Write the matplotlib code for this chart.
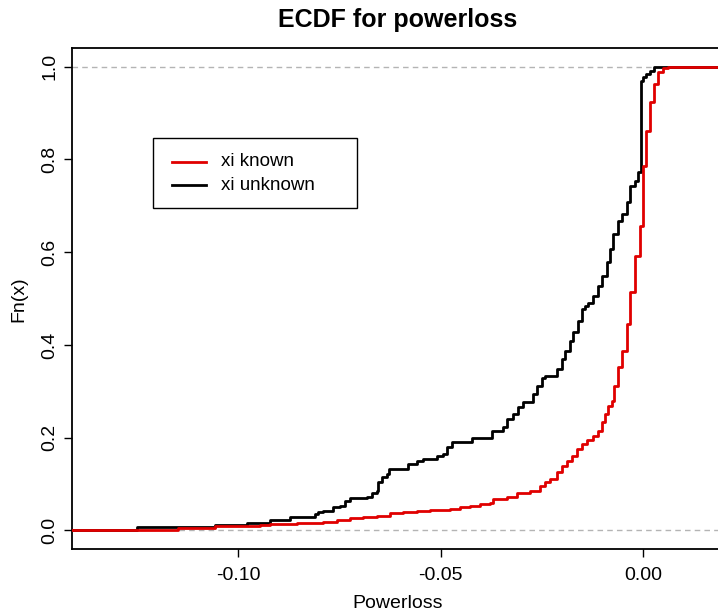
"""ECDF of powerloss with xi known vs xi unknown."""

import matplotlib
matplotlib.use("Agg")
import matplotlib.pyplot as plt
from matplotlib.patches import Rectangle

plt.rcParams["font.family"] = ["Liberation Sans", "DejaVu Sans"]

# jump locations and ECDF level after each jump
unknown_x = [-0.1249, -0.1057, -0.0978, -0.0921, -0.0872, -0.0810, -0.0802,
             -0.0790, -0.0765, -0.0748, -0.0736, -0.0723, -0.0681, -0.0669,
             -0.0657, -0.0654, -0.0644, -0.0632, -0.0627, -0.0580, -0.0558,
             -0.0543, -0.0509, -0.0494, -0.0484, -0.0472, -0.0422, -0.0373,
             -0.0346, -0.0336, -0.0321, -0.0309, -0.0296, -0.0272, -0.0262,
             -0.0249, -0.0242, -0.0212, -0.0200, -0.0193, -0.0180, -0.0173,
             -0.0160, -0.0151, -0.0143, -0.0136, -0.0123, -0.0111, -0.0101,
             -0.0089, -0.0081, -0.0074, -0.0062, -0.0052, -0.0040, -0.0032,
             -0.0020, -0.0012, -0.0005, 0.0000, 0.0007, 0.0017, 0.0027, 0.0035]
unknown_y = [0.007, 0.011, 0.017, 0.022, 0.028, 0.035, 0.039,
             0.042, 0.050, 0.052, 0.063, 0.071, 0.073, 0.080,
             0.084, 0.104, 0.115, 0.121, 0.132, 0.143, 0.149,
             0.155, 0.160, 0.164, 0.180, 0.190, 0.200, 0.214,
             0.222, 0.240, 0.250, 0.266, 0.277, 0.294, 0.311,
             0.328, 0.333, 0.348, 0.369, 0.387, 0.408, 0.427,
             0.451, 0.477, 0.484, 0.490, 0.505, 0.527, 0.549,
             0.579, 0.607, 0.639, 0.667, 0.682, 0.708, 0.743,
             0.754, 0.773, 0.968, 0.978, 0.985, 0.991, 0.998, 1.000]

known_x = [-0.1274, -0.1148, -0.1057, -0.0946, -0.0921, -0.0854, -0.0822,
           -0.0790, -0.0756, -0.0723, -0.0691, -0.0657, -0.0625, -0.0593,
           -0.0558, -0.0526, -0.0477, -0.0452, -0.0427, -0.0402, -0.0378,
           -0.0370, -0.0336, -0.0311, -0.0279, -0.0254, -0.0242, -0.0230,
           -0.0212, -0.0200, -0.0188, -0.0175, -0.0163, -0.0151, -0.0138,
           -0.0123, -0.0111, -0.0101, -0.0094, -0.0086, -0.0077, -0.0072,
           -0.0062, -0.0052, -0.0040, -0.0032, -0.0020, -0.0007, 0.0000,
           0.0007, 0.0017, 0.0027, 0.0037, 0.0049, 0.0062]
known_y = [0.002, 0.005, 0.009, 0.011, 0.013, 0.015, 0.017,
           0.019, 0.022, 0.026, 0.028, 0.032, 0.037, 0.039,
           0.041, 0.043, 0.047, 0.050, 0.052, 0.056, 0.060,
           0.067, 0.073, 0.080, 0.086, 0.095, 0.104, 0.110,
           0.125, 0.138, 0.149, 0.160, 0.175, 0.186, 0.194,
           0.203, 0.214, 0.233, 0.250, 0.268, 0.279, 0.311,
           0.352, 0.387, 0.445, 0.514, 0.592, 0.657, 0.786,
           0.862, 0.924, 0.963, 0.989, 0.996, 1.000]

labels = ["xi known", "xi unknown"]
xticks = [-0.10, -0.05, 0.00]
yticks = [0.0, 0.2, 0.4, 0.6, 0.8, 1.0]
XLIM = (-0.141, 0.020)


def ecdf_path(xs, ys):
    # extend the step function out to both plot edges
    return [XLIM[0] - 0.01] + xs + [XLIM[1] + 0.01], [0.0] + ys + [ys[-1]]


fig = plt.figure(figsize=(7.18, 6.12), dpi=100)
ax = fig.add_axes([72 / 718, 1 - 549 / 612, 652 / 718, 501 / 612])

for yv in (0.0, 1.0):
    ax.axhline(yv, color="#b4b4b4", lw=1.0, ls=(0, (4, 3)), zorder=1)

kx, ky = ecdf_path(known_x, known_y)
ux, uy = ecdf_path(unknown_x, unknown_y)
ax.step(ux, uy, where="post", color="black", lw=2.0, zorder=3)
ax.step(kx, ky, where="post", color="#e00000", lw=2.0, zorder=4)

ax.set_xlim(*XLIM)
ax.set_ylim(-0.04, 1.04)
ax.set_xticks(xticks)
ax.set_xticklabels([f"{t:.2f}" for t in xticks])
ax.set_yticks(yticks)
ax.set_yticklabels([f"{t:.1f}" for t in yticks], rotation=90, va="center")
ax.tick_params(direction="out", length=6, width=1, labelsize=14, pad=4)
ax.tick_params(axis="x", pad=7)
ax.spines["right"].set_visible(False)
for s in ("left", "bottom", "top"):
    ax.spines[s].set_linewidth(1.3)

fig.text(398 / 718, 1 - 20 / 612, "ECDF for powerloss", ha="center",
         va="center", fontsize=18, fontweight="bold")
fig.text(398 / 718, 1 - 603 / 612, "Powerloss", ha="center", va="center",
         fontsize=14)
fig.text(19 / 718, 1 - 299 / 612, "Fn(x)", ha="center", va="center",
         fontsize=14, rotation=90)

# legend box drawn in figure pixels
ax.add_patch(Rectangle((153 / 718, 1 - 208 / 612), 204 / 718, 70 / 612,
                       transform=fig.transFigure, fill=False, ec="black",
                       lw=1.0, zorder=6))
for i, (lab, col) in enumerate(zip(labels, ["#e00000", "black"])):
    ypx = 162 + 23 * i
    ax.plot([172 / 718, 206 / 718], [1 - ypx / 612] * 2, color=col, lw=2,
            transform=fig.transFigure, clip_on=False, zorder=6)
    fig.text(221 / 718, 1 - ypx / 612, lab, ha="left", va="center",
             fontsize=13.5)

fig.savefig("out.png", dpi=100)
